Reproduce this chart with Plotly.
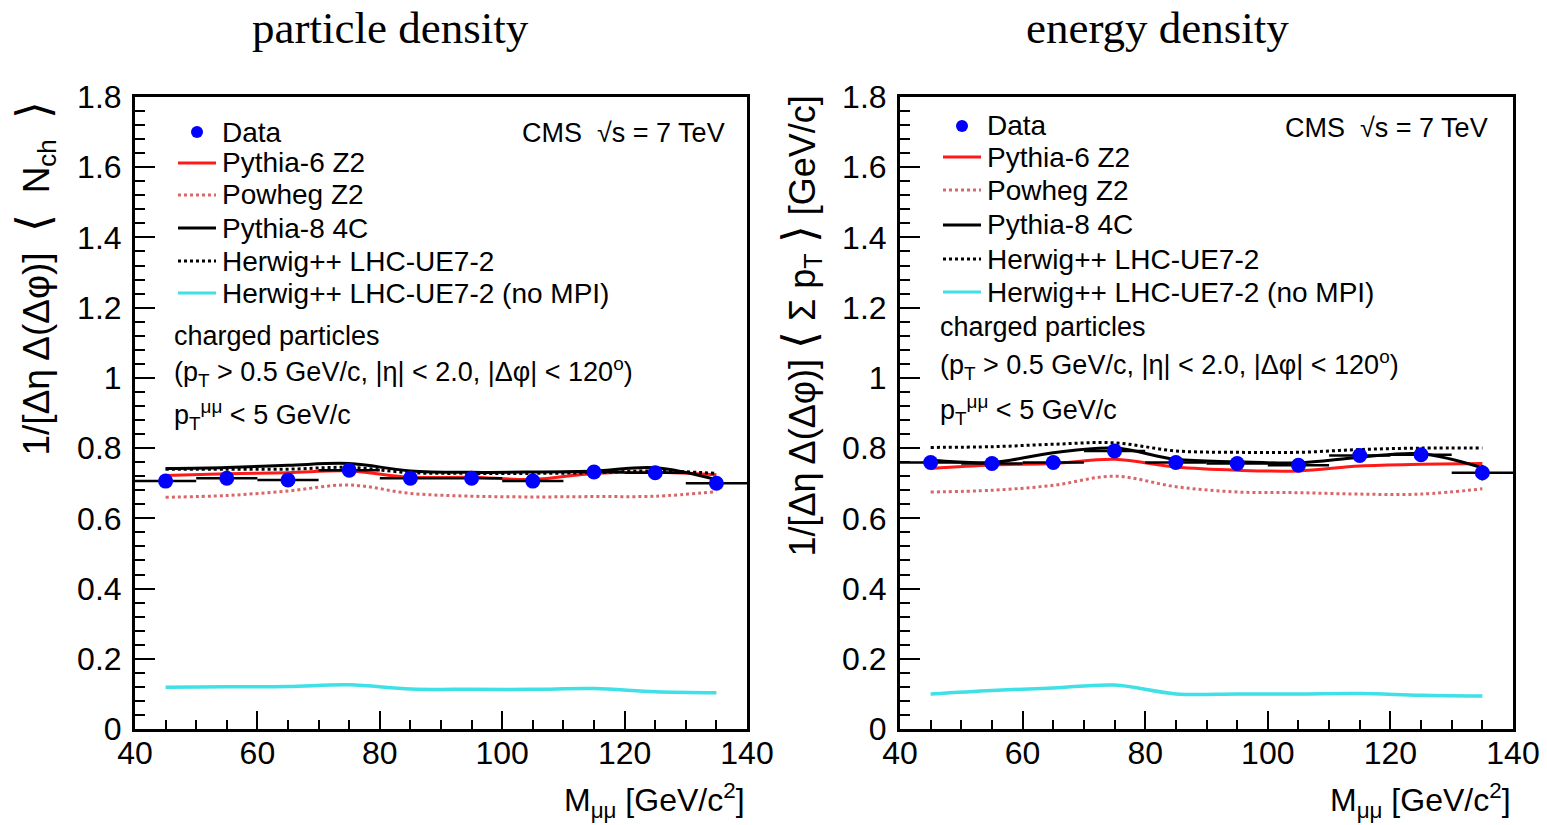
import plotly.graph_objects as go
from plotly.subplots import make_subplots

# ---------------- data ----------------
mass = [45, 55, 65, 75, 85, 95, 105, 115, 125, 135]
bin_half = [5, 5, 5, 5, 5, 5, 5, 5, 5, 5]

# particle density
data_nch = [0.706, 0.714, 0.709, 0.737, 0.714, 0.714, 0.706, 0.732, 0.730, 0.700]
err_nch = [0.006, 0.006, 0.006, 0.006, 0.006, 0.006, 0.006, 0.006, 0.006, 0.010]
py6_nch = [0.722, 0.727, 0.730, 0.735, 0.717, 0.717, 0.711, 0.728, 0.731, 0.724]
powheg_nch = [0.660, 0.665, 0.678, 0.695, 0.671, 0.663, 0.661, 0.662, 0.663, 0.676]
py8_nch = [0.742, 0.745, 0.751, 0.756, 0.735, 0.731, 0.732, 0.735, 0.744, 0.710]
hw_nch = [0.740, 0.740, 0.740, 0.745, 0.730, 0.728, 0.728, 0.730, 0.735, 0.728]
hwnompi_nch = [0.119, 0.120, 0.121, 0.126, 0.114, 0.113, 0.113, 0.115, 0.106, 0.103]

# energy density
data_pt = [0.759, 0.756, 0.759, 0.792, 0.759, 0.756, 0.751, 0.779, 0.781, 0.730]
err_pt = [0.008, 0.008, 0.008, 0.010, 0.008, 0.008, 0.008, 0.012, 0.014, 0.022]
py6_pt = [0.742, 0.752, 0.756, 0.768, 0.746, 0.737, 0.735, 0.749, 0.754, 0.756]
powheg_pt = [0.675, 0.680, 0.694, 0.720, 0.690, 0.675, 0.673, 0.669, 0.669, 0.684]
py8_pt = [0.766, 0.759, 0.787, 0.800, 0.768, 0.761, 0.758, 0.774, 0.784, 0.744]
hw_pt = [0.802, 0.804, 0.811, 0.815, 0.792, 0.788, 0.788, 0.796, 0.800, 0.800]
hwnompi_pt = [0.100, 0.110, 0.117, 0.125, 0.100, 0.100, 0.100, 0.101, 0.096, 0.094]

legend_labels = ["Data", "Pythia-6 Z2", "Powheg Z2", "Pythia-8 4C",
                 "Herwig++ LHC-UE7-2", "Herwig++ LHC-UE7-2 (no MPI)"]
titles = ["particle density", "energy density"]

# ---------------- styles ----------------
W, H = 1547, 825
BLUE = "#0000ff"
RED = "#ff1a1a"
PINK = "#d9676a"
CYAN = "#3fe0e6"
SANS = "Liberation Sans, Arial, sans-serif"
SERIF = "Liberation Serif, Times New Roman, serif"

styles = [
    dict(color=RED, dash="solid", width=3),
    dict(color=PINK, dash="dot", width=3),
    dict(color="black", dash="solid", width=3),
    dict(color="black", dash="dot", width=3),
    dict(color=CYAN, dash="solid", width=3.5),
]


def px(x):
    return x / W


def py(y):
    return 1 - y / H


fig = make_subplots(rows=1, cols=2)

panels = [
    (1, data_nch, err_nch, [py6_nch, powheg_nch, py8_nch, hw_nch, hwnompi_nch]),
    (2, data_pt, err_pt, [py6_pt, powheg_pt, py8_pt, hw_pt, hwnompi_pt]),
]

for col, dat, err, models in panels:
    for vals, st in zip(models, styles):
        fig.add_trace(go.Scatter(
            x=mass, y=vals, mode="lines",
            line=dict(color=st["color"], dash=st["dash"], width=st["width"],
                      shape="spline", smoothing=1.0),
            showlegend=False, hoverinfo="skip"), row=1, col=col)
    fig.add_trace(go.Scatter(
        x=mass, y=dat, mode="markers",
        marker=dict(color=BLUE, size=15),
        error_x=dict(type="data", array=bin_half, color="black", thickness=2.5, width=0),
        error_y=dict(type="data", array=err, color="black", thickness=2.5, width=0),
        showlegend=False), row=1, col=col)

# ---------------- axes ----------------
xdomains = [[px(135), px(747)], [px(900), px(1513)]]
ydomain = [py(729), py(97)]
for i in range(2):
    xa = "xaxis" if i == 0 else "xaxis2"
    ya = "yaxis" if i == 0 else "yaxis2"
    fig.layout[xa].update(
        domain=xdomains[i], range=[40, 140], dtick=20, tick0=40,
        ticks="inside", ticklen=18, tickwidth=2, tickcolor="black",
        minor=dict(dtick=5, ticks="inside", ticklen=9, tickwidth=2, tickcolor="black"),
        showgrid=False, zeroline=False, showline=True, linewidth=3, linecolor="black",
        mirror=True, tickfont=dict(family=SANS, size=32, color="black"),
        ticklabelstandoff=-6, automargin=False)
    fig.layout[ya].update(
        domain=ydomain, range=[0, 1.8], dtick=0.2, tick0=0,
        ticks="inside", ticklen=20, tickwidth=2, tickcolor="black",
        minor=dict(dtick=0.04, ticks="inside", ticklen=10, tickwidth=2, tickcolor="black"),
        showgrid=False, zeroline=False, showline=True, linewidth=3, linecolor="black",
        mirror=True, tickfont=dict(family=SANS, size=32, color="black"),
        ticklabelstandoff=4, automargin=False)

annotations = []
shapes = []


def text(x, y, s, size=27, xanchor="left", yanchor="middle", family=SANS, angle=0):
    annotations.append(dict(
        x=px(x), y=py(y), xref="paper", yref="paper", text=s, showarrow=False,
        xanchor=xanchor, yanchor=yanchor, textangle=angle,
        font=dict(family=family, size=size, color="black")))


# titles
text(390, 28, titles[0], size=45, xanchor="center", family=SERIF)
text(1157, 28, titles[1], size=45, xanchor="center", family=SERIF)

# axis titles
xt = "M<sub>μμ</sub> [GeV/c<sup>2</sup>]"
text(747, 800, xt, size=32, xanchor="right")
text(1513, 800, xt, size=32, xanchor="right")
LB = "<span style='font-size:46px;font-weight:300'>⟨</span>"
RB = "<span style='font-size:46px;font-weight:300'>⟩</span>"
text(34, 99, "1/[Δη Δ(Δφ)]  " + LB + "  N<sub>ch</sub>  " + RB, size=37, xanchor="center",
     yanchor="top", angle=-90)
text(800, 94, "1/[Δη Δ(Δφ)] " + LB + " Σ p<sub>T</sub> " + RB + " [GeV/c]", size=36,
     xanchor="center", yanchor="top", angle=-90)

# legends and labels
legend_specs = [
    dict(x0=178, rows=[132, 163, 195, 228, 261, 293], cms=(727, 133),
         txt=(172, [336, 372, 415])),
    dict(x0=943, rows=[126, 157, 190, 225, 259, 292], cms=(1490, 128),
         txt=(938, [327, 365, 410])),
]
for spec in legend_specs:
    x0 = spec["x0"]
    rows = spec["rows"]
    # data marker sample
    shapes.append(dict(type="circle", xref="paper", yref="paper",
                       x0=px(x0 + 13), x1=px(x0 + 25), y0=py(rows[0] + 6), y1=py(rows[0] - 6),
                       fillcolor=BLUE, line=dict(width=0)))
    text(x0 + 42, rows[0], legend_labels[0], size=28)
    for k, st in enumerate(styles):
        yy = rows[k + 1]
        shapes.append(dict(type="line", xref="paper", yref="paper",
                           x0=px(x0), x1=px(x0 + 38), y0=py(yy), y1=py(yy),
                           line=dict(color=st["color"], dash=st["dash"], width=3)))
        text(x0 + 42, yy, legend_labels[k + 1], size=28)
    cx, cy = spec["cms"]
    text(cx, cy, "CMS  √s = 7 TeV", xanchor="right")
    tx, tys = spec["txt"]
    text(tx, tys[0], "charged particles")
    text(tx, tys[1], "(p<sub>T</sub> &gt; 0.5 GeV/c, |η| &lt; 2.0, |Δφ| &lt; 120<sup>o</sup>)")
    text(tx, tys[2], "p<sub>T</sub><sup>μμ</sup> &lt; 5 GeV/c")

fig.update_layout(
    width=W, height=H, margin=dict(l=0, r=0, t=0, b=0),
    paper_bgcolor="white", plot_bgcolor="white",
    showlegend=False, annotations=annotations, shapes=shapes)

fig.write_html("out.html")
